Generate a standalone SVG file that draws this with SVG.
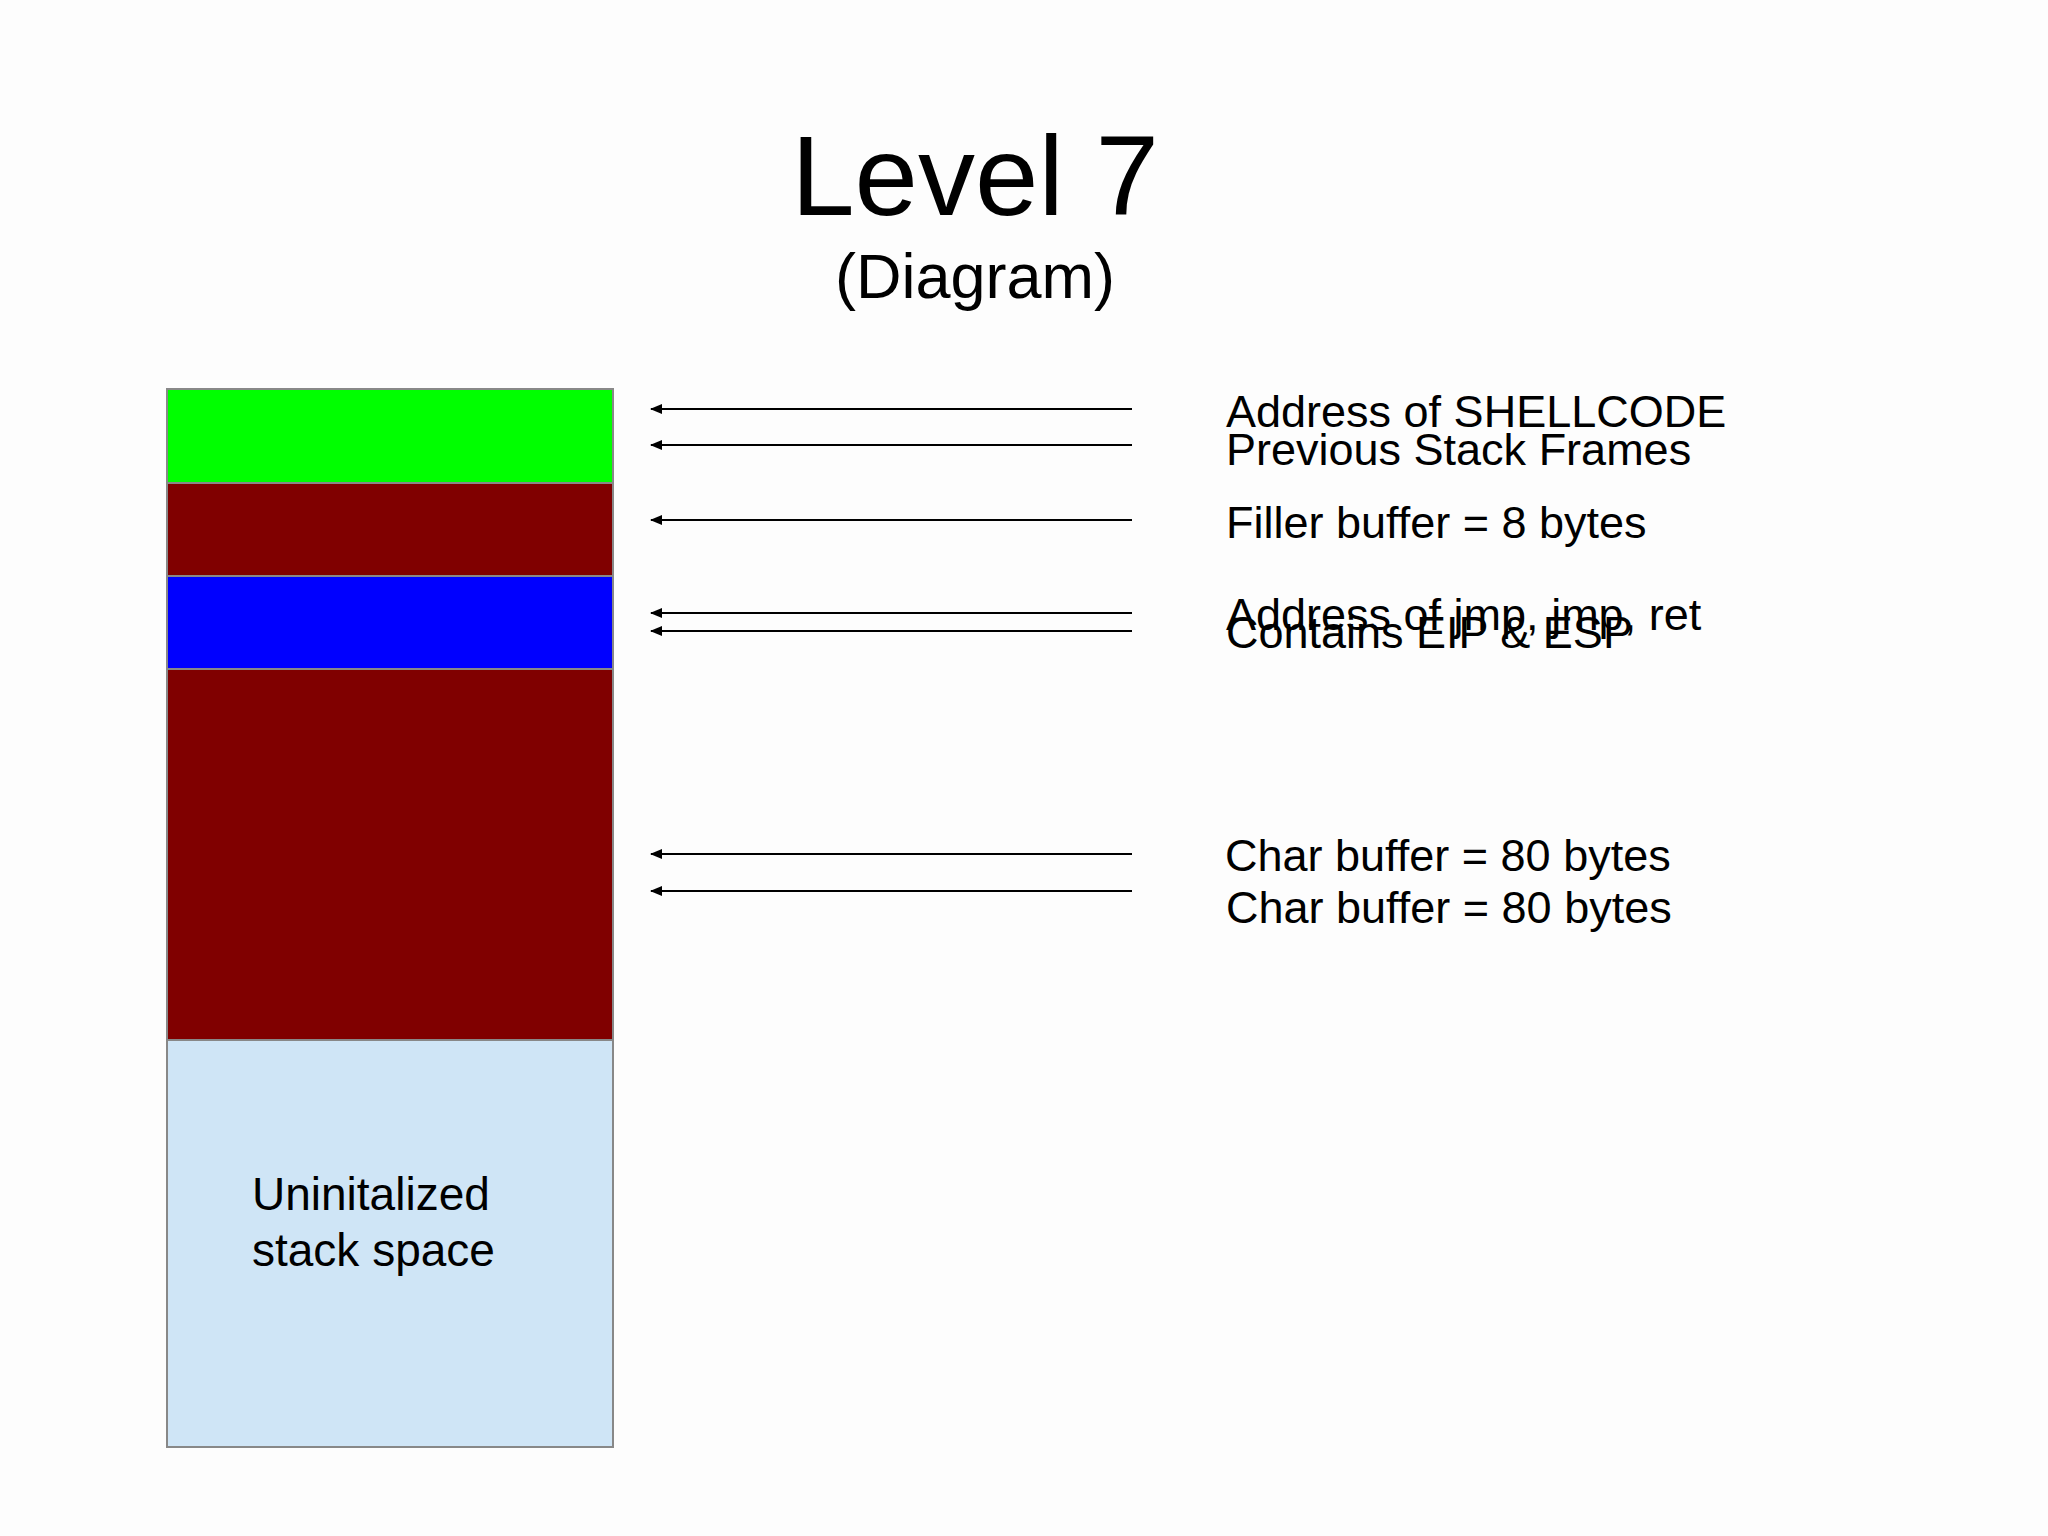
<svg xmlns="http://www.w3.org/2000/svg" width="2048" height="1536" viewBox="0 0 2048 1536">
<style>
text{font-family:"Liberation Sans",Arial,sans-serif;fill:#000}
.l{font-size:45px}
.u{font-size:46px}
.b{stroke:#888;stroke-width:2}
.c{stroke:#000;stroke-width:2;marker-end:url(#a)}
</style>
<defs><marker id="a" markerWidth="12" markerHeight="10" refX="11" refY="5" orient="auto" markerUnits="userSpaceOnUse"><path d="M0,0L12,5L0,10z" fill="#000"/></marker></defs>
<rect width="2048" height="1536" fill="#fdfdfd"/>
<text x="975" y="215" font-size="114" text-anchor="middle">Level 7</text>
<text x="975" y="298" font-size="63" text-anchor="middle">(Diagram)</text>
<g id="n1"><rect class="b" x="167" y="389" width="446" height="94" fill="#00ff00"/></g>
<g id="n2"><rect class="b" x="167" y="483" width="446" height="93" fill="#800000"/></g>
<g id="n3"><rect class="b" x="167" y="576" width="446" height="93" fill="#0000ff"/></g>
<g id="n4"><rect class="b" x="167" y="669" width="446" height="371" fill="#800000"/></g>
<g id="n5"><rect class="b" x="167" y="1040" width="446" height="407" fill="#cfe5f6"/>
<text class="u" x="252" y="1210">Uninitalized</text><text class="u" x="252" y="1266">stack space</text></g>
<g id="connectors">
<line class="c" x1="1132" y1="409" x2="651" y2="409"/>
<line class="c" x1="1132" y1="445" x2="651" y2="445"/>
<line class="c" x1="1132" y1="520" x2="651" y2="520"/>
<line class="c" x1="1132" y1="613" x2="651" y2="613"/>
<line class="c" x1="1132" y1="631" x2="651" y2="631"/>
<line class="c" x1="1132" y1="854" x2="651" y2="854"/>
<line class="c" x1="1132" y1="891" x2="651" y2="891"/>
</g>
<g id="labels">
<text class="l" x="1226" y="427">Address of SHELLCODE</text>
<text class="l" x="1226" y="465">Previous Stack Frames</text>
<text class="l" x="1226" y="538">Filler buffer = 8 bytes</text>
<text class="l" x="1226" y="630">Address of jmp, jmp, ret</text>
<text class="l" x="1226" y="648">Contains EIP &amp; ESP</text>
<text class="l" x="1225" y="871">Char buffer = 80 bytes</text>
<text class="l" x="1226" y="923">Char buffer = 80 bytes</text>
</g>
</svg>
